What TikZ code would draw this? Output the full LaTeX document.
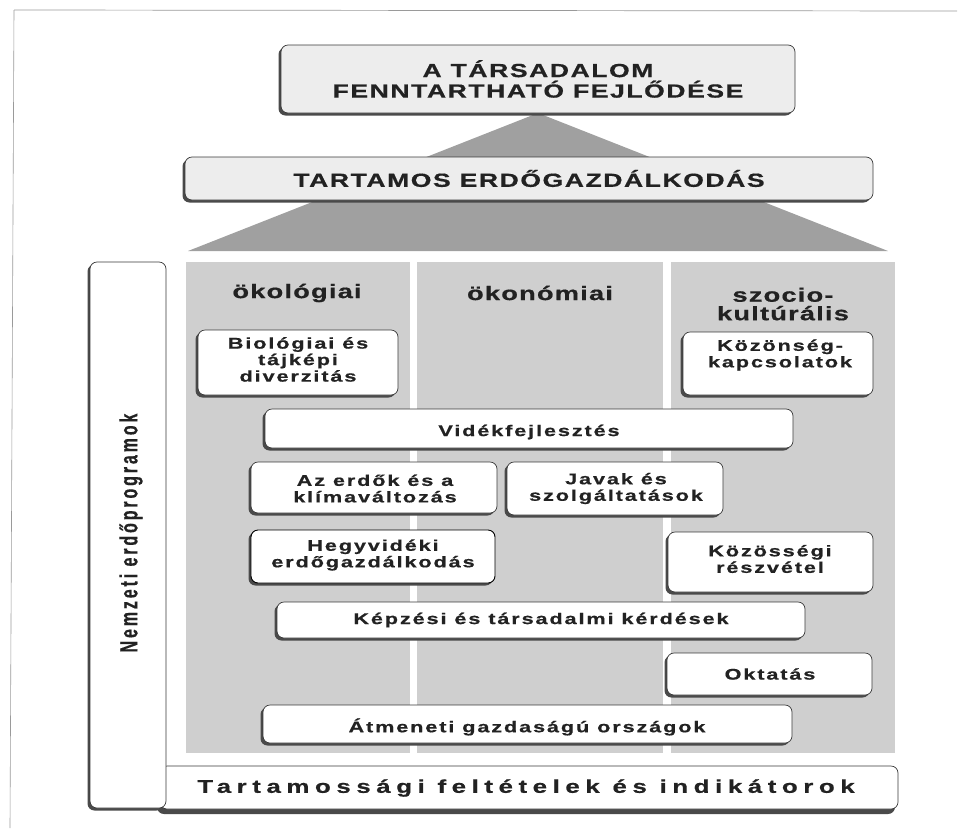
\documentclass[tikz,border=0pt]{standalone}
\usepackage{fontspec}
\usepackage{graphicx}
\setmainfont{Liberation Sans}
\newfontfamily\fnttitle[FakeStretch=1.4,LetterSpace=8,FakeBold=0.6]{Liberation Sans}
\newfontfamily\fnthead[FakeStretch=1.4,LetterSpace=6,FakeBold=0.6]{Liberation Sans}
\newfontfamily\fntbox[FakeStretch=1.4,LetterSpace=12,FakeBold=0.6]{Liberation Sans}
\newfontfamily\fntwide[FakeStretch=1.4,LetterSpace=30,FakeBold=0.6]{Liberation Sans}
\newfontfamily\fntvert[LetterSpace=18,FakeBold=0.6]{Liberation Sans}
\usetikzlibrary{shadows}
\definecolor{panel}{HTML}{CFCFCF}
\definecolor{tri}{HTML}{A0A0A0}
\definecolor{ink}{HTML}{222222}
\definecolor{edge}{HTML}{3A3A3A}
\definecolor{shade}{HTML}{4A4A4A}
\definecolor{lightfill}{HTML}{EDEDED}
\definecolor{frameline}{HTML}{9A9A9A}
\tikzset{
  wbox/.style={draw=edge, line width=0.7pt, fill=white, rounded corners=7pt,
    inner sep=0pt, drop shadow={shadow xshift=-2.5pt, shadow yshift=-2.5pt, fill=shade, opacity=1}},
  tbox/.style={wbox, fill=lightfill, text=ink, align=center,
    font=\fontsize{19}{20.5}\fnttitle\bfseries},
  panelbox/.style={fill=panel, draw=none, inner sep=0pt},
  btxt/.style={font=\fontsize{15.5}{16.5}\fntbox\bfseries, text=ink, align=center, inner sep=0pt},
  htxt/.style={font=\fontsize{19.5}{18.5}\fnthead\bfseries, text=ink, align=center, inner sep=0pt},
  wtxt/.style={font=\fontsize{18.5}{19}\fntwide\bfseries, text=ink, inner sep=0pt},
  vtxt/.style={font=\fontsize{16}{17}\fntvert\bfseries, text=ink, inner sep=0pt, rotate=90},
}
\begin{document}
\begin{tikzpicture}[x=1pt,y=-1pt]
\useasboundingbox (0,0) rectangle (959,828);
% outer frame lines
\draw[frameline, line width=0.7pt] (14,10) -- (957,11);
\draw[frameline, line width=0.6pt] (14,10) -- (10,828);
% pyramid
\fill[tri] (538,113) -- (188,251) -- (888,251) -- cycle;
% top boxes
\node[tbox, minimum width=514pt, minimum height=68pt] (top) at (538,79) {A TÁRSADALOM\\FENNTARTHATÓ FEJLŐDÉSE};
\node[tbox, minimum width=688pt, minimum height=43pt] (stf) at (529,178.5) {TARTAMOS ERDŐGAZDÁLKODÁS};
% columns
\node[panelbox, minimum width=224pt, minimum height=491pt] (col1) at (298,507.5) {};
\node[panelbox, minimum width=246pt, minimum height=491pt] (col2) at (540,507.5) {};
\node[panelbox, minimum width=224pt, minimum height=491pt] (col3) at (783,507.5) {};
\node[htxt] (h1) at (297,293) {ökológiai};
\node[htxt] (h2) at (540,293) {ökonómiai};
\node[htxt] (h3) at (783,304) {szocio-\\kultúrális};
% bottom bar and side box
\node[wbox, minimum width=738pt, minimum height=43pt,
  drop shadow={shadow xshift=-3pt, shadow yshift=-5pt, fill=shade, opacity=1}] (bar) at (529,787.5) {};
\node[wtxt] (bar-t) at (526,788) {Tartamossági feltételek és indikátorok};
\node[wbox, minimum width=76pt, minimum height=546pt] (nfp) at (128,535) {};
\node[vtxt] (nfp-t) at (131,533) {\scalebox{1}[1.55]{Nemzeti erdőprogramok}};
% inner boxes
\node[wbox, minimum width=200pt, minimum height=65pt] (bio) at (298,362.5) {};
\node[btxt] (bio-t) at (298,359.5) {Biológiai és\\tájképi\\diverzitás};
\node[wbox, minimum width=190pt, minimum height=63pt] (koz) at (778,363.5) {};
\node[btxt] (koz-t) at (780,355) {Közönség-\\kapcsolatok};
\node[wbox, minimum width=528pt, minimum height=39pt] (vid) at (529,428.5) {};
\node[btxt] (vid-t) at (529,432) {Vidékfejlesztés};
\node[wbox, minimum width=246pt, minimum height=51pt] (klima) at (374,487.5) {};
\node[btxt] (klima-t) at (375,488.5) {Az erdők és a\\klímaváltozás};
\node[wbox, minimum width=216pt, minimum height=53pt] (javak) at (615,488.5) {};
\node[btxt] (javak-t) at (616,488.5) {Javak és\\szolgáltatások};
\node[wbox, minimum width=244pt, minimum height=53pt, draw=black, line width=0.9pt] (hegy) at (373,556.5) {};
\node[btxt] (hegy-t) at (373,555) {Hegyvidéki\\erdőgazdálkodás};
\node[wbox, minimum width=205pt, minimum height=60pt] (kozre) at (770.5,562) {};
\node[btxt] (kozre-t) at (770,559) {Közösségi\\részvétel};
\node[wbox, minimum width=528pt, minimum height=36pt] (kepz) at (541,620) {};
\node[btxt] (kepz-t) at (541,620) {Képzési és társadalmi kérdések};
\node[wbox, minimum width=205pt, minimum height=42pt] (okt) at (769.5,674) {};
\node[btxt] (okt-t) at (770,674) {Oktatás};
\node[wbox, minimum width=529pt, minimum height=38pt] (atm) at (527.5,724) {};
\node[btxt] (atm-t) at (527,727) {Átmeneti gazdaságú országok};
\end{tikzpicture}
\end{document}
